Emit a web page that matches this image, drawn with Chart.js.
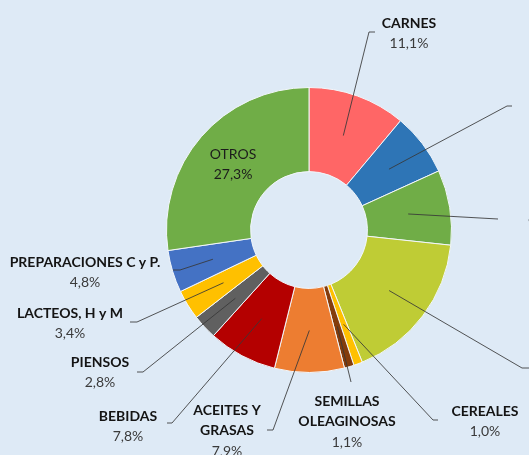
<!DOCTYPE html>
<html>
<head>
<meta charset="utf-8">
<script src="https://cdn.jsdelivr.net/npm/chart.js@4/dist/chart.umd.min.js"></script>
<style>
  html, body { margin: 0; padding: 0; background: #DEEAF6; overflow: hidden; }
  #wrap { position: relative; width: 529px; height: 455px; }
</style>
</head>
<body>
<div id="wrap"><canvas id="c" width="529" height="455"></canvas></div>
<script>
// ---- data ----
const categories = ['CARNES', 'PESCADOS', 'HORTALIZAS', 'FRUTAS', 'CEREALES',
  'SEMILLAS\nOLEAGINOSAS', 'ACEITES Y\nGRASAS', 'BEBIDAS', 'PIENSOS',
  'LACTEOS, H y M', 'PREPARACIONES C y P.', 'OTROS'];
const shares = [11.1, 7.1, 8.5, 17.2, 1.0, 1.1, 7.9, 7.8, 2.8, 3.4, 4.8, 27.3];
const sliceColors = ['#FF6666', '#2E75B6', '#70AD47', '#BFCC35', '#FFC000', '#843C0C',
  '#ED7D31', '#B40000', '#606060', '#FFC000', '#4472C4', '#70AD47'];

// ---- label layout (positions only) ----
const labelLayout = [
  { pts: [[369, 32], [375, 32]], x: 409, y: 23, align: 'center' },
  { pts: [[507, 106], [512, 106]], x: 535, y: 100, align: 'left' },
  { pts: [[498, 219]], x: 528, y: 198, align: 'left' },
  { pts: [[522, 368], [540, 368]], x: 545, y: 360, align: 'left' },
  { pts: [[433, 420], [438, 420]], x: 485, y: 411, align: 'center' },
  { pts: [[351, 382]], x: 347, y: 401, align: 'center' },
  { pts: [[273, 430], [267, 430]], x: 227, y: 410, align: 'center' },
  { pts: [[172, 423], [167, 423]], x: 128, y: 416, align: 'center' },
  { pts: [[143, 372], [137, 372]], x: 100, y: 362, align: 'center' },
  { pts: [[137, 322], [130, 322]], x: 70, y: 313, align: 'center' },
  { pts: [[180, 270], [173, 270]], x: 85, y: 262, align: 'center' },
  { inside: true, align: 'center' }
];

const fmt = v => v.toFixed(1).replace('.', ',') + '%';

const labelPlugin = {
  id: 'leaderLabels',
  afterDatasetsDraw(chart) {
    const ctx = chart.ctx;
    const meta = chart.getDatasetMeta(0);
    const ds = chart.data.datasets[0];
    ctx.save();
    meta.data.forEach((arc, i) => {
      const L = labelLayout[i];
      const p = arc.getProps(['x', 'y', 'startAngle', 'endAngle', 'innerRadius', 'outerRadius'], true);
      const mid = (p.startAngle + p.endAngle) / 2;
      const r = (p.innerRadius + p.outerRadius) / 2;
      const cx = p.x + Math.cos(mid) * r;
      const cy = p.y + Math.sin(mid) * r;
      const lines = String(chart.data.labels[i]).split('\n');
      const pct = fmt(ds.data[i]);
      const lh = 20.5;
      ctx.textBaseline = 'middle';
      ctx.textAlign = L.align;
      if (L.inside) {
        const y0 = cy - lh / 2;
        ctx.fillStyle = '#1c1c1c';
        ctx.font = '14px Lato';
        lines.forEach((t, k) => ctx.fillText(t, cx, y0 + k * lh));
        ctx.fillText(pct, cx, y0 + lines.length * lh);
        return;
      }
      ctx.strokeStyle = 'rgba(55,55,55,0.85)';
      ctx.lineWidth = 1;
      ctx.beginPath();
      ctx.moveTo(cx, cy);
      L.pts.forEach(q => ctx.lineTo(q[0], q[1]));
      ctx.stroke();
      ctx.fillStyle = '#141414';
      ctx.font = 'bold 14px Lato';
      lines.forEach((t, k) => ctx.fillText(t, L.x, L.y + k * lh));
      ctx.fillStyle = '#3a3a3a';
      ctx.font = '14px Lato';
      ctx.fillText(pct, L.x, L.y + lines.length * lh);
    });
    ctx.restore();
  }
};

new Chart(document.getElementById('c'), {
  type: 'doughnut',
  data: {
    labels: categories,
    datasets: [{
      data: shares,
      backgroundColor: sliceColors,
      borderColor: '#F2F6FA',
      borderWidth: 1
    }]
  },
  options: {
    responsive: false,
    animation: false,
    cutout: '41%',
    layout: { padding: { left: 166, right: 77, top: 87, bottom: 82 } },
    plugins: { legend: { display: false }, tooltip: { enabled: false } }
  },
  plugins: [labelPlugin]
});
</script>
</body>
</html>
